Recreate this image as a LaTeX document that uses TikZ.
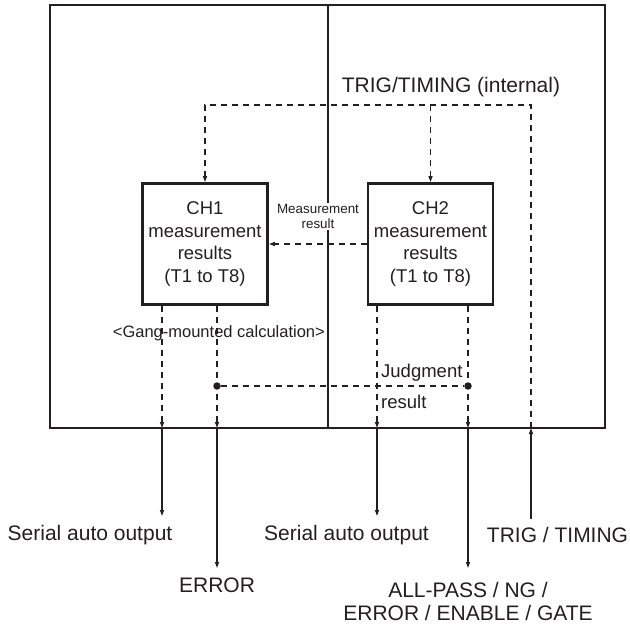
\documentclass[tikz,border=0pt]{standalone}
\usepackage{fontspec}
\setmainfont{Liberation Sans}
\usetikzlibrary{arrows.meta}
\definecolor{ink}{RGB}{35,31,32}
\begin{document}
\begin{tikzpicture}[x=1pt,y=-1pt,
  >={Triangle[length=6pt,width=4pt]},
  biglbl/.style={font=\fontsize{21}{23}\selectfont, text=ink, inner sep=0pt, align=center},
  midlbl/.style={font=\fontsize{18.5}{22.7}\selectfont, text=ink, inner sep=0pt, align=left},
  smalllbl/.style={font=\fontsize{13.4}{15}\selectfont, text=ink, fill=white, inner sep=1.5pt, align=center},
  chbox/.style={draw=ink, line width=2.8pt, minimum width=125pt, minimum height=121pt,
    align=center, inner sep=0pt, text=ink, font=\fontsize{18.5}{22.7}\selectfont},
  frame/.style={draw=ink, line width=2.8pt},
  dsh/.style={draw=ink, line width=1.2pt, dash pattern=on 6pt off 5pt},
  sol/.style={draw=ink, line width=1.2pt},
  jdot/.style={circle, fill=ink, inner sep=0pt, minimum size=7.5pt}
]
\useasboundingbox (0,0) rectangle (630,627);

% frame
\draw[frame] (50,5) rectangle (605,428);
\draw[frame] (328,5) -- (328,428);

% channel boxes
\node[chbox] (ch1) at (205,244) {CH1\\measurement\\results\\(T1 to T8)};
\node[chbox] (ch2) at (430.5,244) {CH2\\measurement\\results\\(T1 to T8)};

% coordinates on the frame bottom
\coordinate (o1) at (162,428);
\coordinate (o2) at (217,428);
\coordinate (o3) at (377,428);
\coordinate (o4) at (468,428);
\coordinate (ti) at (531,428);
% trig loop corners
\coordinate (tc) at (531,105);
\coordinate (t2) at (430.5,105);

% judgment dots
\node[jdot] (j1) at (217,386) {};
\node[jdot] (j2) at (468,386) {};

% labels
\node[biglbl] (trigint) at (451,87) {TRIG/TIMING (internal)};
\node[smalllbl] (meas) at (318,216.5) {Measurement\\result};
\node[font=\fontsize{16.5}{18}\selectfont, text=ink, inner sep=0pt, anchor=east] (gang) at (325,333) {<Gang-mounted calculation>};
\node[midlbl, anchor=west] (judg) at (381,373) {Judgment};
\node[midlbl, anchor=west] (jres) at (381,402) {result};

\node[biglbl] (ser1) at (90,535) {Serial auto output};
\node[biglbl] (ser2) at (346.5,535) {Serial auto output};
\node[biglbl] (trig) at (557.5,535) {TRIG / TIMING};
\node[biglbl] (err) at (217,585) {ERROR};
\node[biglbl] (allp) at (468,601.5) {ALL-PASS / NG /\\ERROR / ENABLE / GATE};

% arrow ends above the labels
\coordinate (e1) at (162,516);
\coordinate (e2) at (217,568);
\coordinate (e3) at (377,516);
\coordinate (e4) at (468,568);
\coordinate (e5) at (531,519);

% internal trigger distribution
\draw[dsh,->] (ti) -- (tc) -| (ch1.north);
\draw[dsh,->] (t2) -- (ch2.north);

% measurement result transfer
\draw[dsh,->] (ch2.west) -- (ch1.east);

% outputs from channel boxes
\draw[dsh,->] (ch1.south -| o1) -- (o1);
\draw[dsh,->] (ch1.south -| o2) -- (o2);
\draw[dsh,->] (ch2.south -| o3) -- (o3);
\draw[dsh,->] (ch2.south -| o4) -- (o4);

% judgment link
\draw[dsh] (j1) -- (j2);

% external lines
\draw[sol,->] (o1) -- (e1);
\draw[sol,->] (o2) -- (e2);
\draw[sol,->] (o3) -- (e3);
\draw[sol,->] (o4) -- (e4);
\draw[sol,->] (e5) -- (ti);
\end{tikzpicture}
\end{document}
